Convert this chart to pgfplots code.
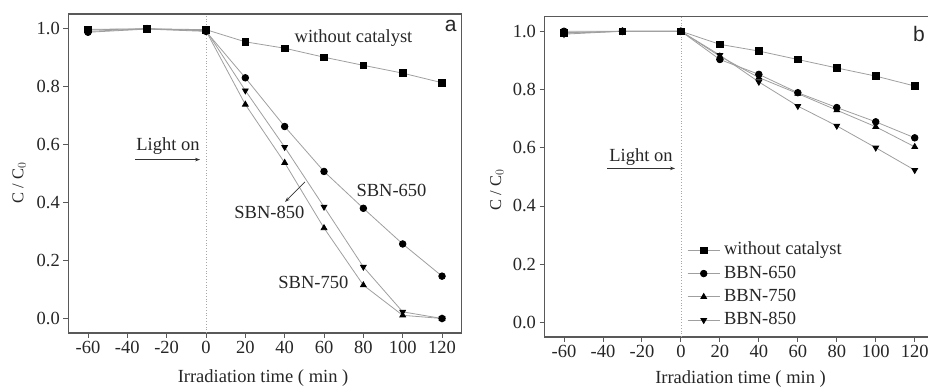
\documentclass[border=0pt]{standalone}
\usepackage{pgfplots}
\pgfplotsset{compat=1.18}
\usepackage{fontspec}
\setmainfont{Liberation Serif}
\newfontfamily\sansf{Liberation Sans}
\usetikzlibrary{arrows.meta}
\newcommand\fs{\fontsize{18.5}{21}\selectfont}
\tikzset{ann/.style={font=\fs, text=black!85}}

\pgfplotsset{
 myax/.style={
  scale only axis,
  xmin=-70,xmax=130,ymin=-0.05,ymax=1.05,
  xtick={-60,-40,...,120}, ytick={0,0.2,0.4,0.6,0.8,1.0},
  yticklabel style={/pgf/number format/.cd,fixed,fixed zerofill,precision=1},
  tick align=outside, tick pos=left,
  major tick length=5pt,
  axis line style={black!65, line width=1.1pt},
  every tick/.style={black!65, line width=0.9pt},
  tick label style={font=\fs, text=black!85},
  label style={font=\fs, text=black!85},
  /pgf/number format/assume math mode=true,
  clip=false,
 },
 ser/.style={gray!75, line width=0.8pt, mark size=3.3pt, mark options={draw=black,fill=black,solid}},
 serd/.style={gray!75, line width=0.8pt, mark size=3.3pt, mark=triangle*, mark options={draw=black,fill=black,solid,rotate=180}},
}

\begin{document}
\begin{tikzpicture}
\path[use as bounding box] (0pt,0pt) rectangle (928pt,390pt);
\begin{scope}
\clip (0pt,0pt) rectangle (928pt,390pt);
% ---------------- panel a
\begin{axis}[myax,
  at={(68.3pt,57pt)}, anchor=south west,
  width=393.4pt, height=319pt,
  xlabel={Irradiation time ( min )},
  ylabel={C / C$_0$},
  xlabel style={at={(axis description cs:0.495,-0.141)},anchor=center},
  ylabel style={at={(axis description cs:-0.125,0.47)},anchor=center,font=\fontsize{16.5}{19}\selectfont},
]
\draw[gray!70, dotted, line width=0.8pt] (axis cs:0,-0.05) -- (axis cs:0,1.05);
\addplot[ser, mark=square*] coordinates {(-60,0.997)(-30,0.999)(0,0.996)(20,0.954)(40,0.932)(60,0.901)(80,0.873)(100,0.846)(120,0.813)};
\addplot[ser, mark=*] coordinates {(-60,0.987)(-30,0.998)(0,0.990)(20,0.830)(40,0.662)(60,0.507)(80,0.380)(100,0.257)(120,0.146)};
\addplot[ser, mark=triangle*] coordinates {(-60,0.990)(-30,0.999)(0,0.992)(20,0.738)(40,0.537)(60,0.312)(80,0.115)(100,0.011)(120,0.0)};
\addplot[serd] coordinates {(-60,0.995)(-30,0.999)(0,0.994)(20,0.786)(40,0.591)(60,0.385)(80,0.178)(100,0.023)(120,0.0)};
\addplot[ser, mark=*] coordinates {(120,0.0)};
\node[ann] at (axis cs:75,0.968) {without catalyst};
\node[ann] at (axis cs:94.3,0.44) {SBN-650};
\node[ann] at (axis cs:32.2,0.365) {SBN-850};
\node[ann] at (axis cs:54.6,0.123) {SBN-750};
\draw[black!80, line width=0.7pt, -{Stealth[length=5pt,width=3.5pt]}] (axis cs:50.3,0.471) -- (axis cs:40.2,0.402);
\node[ann] at (axis cs:-19.3,0.594) {Light on};
\draw[black!80, line width=0.7pt, -{Stealth[length=5pt,width=3.5pt]}] (axis cs:-36,0.548) -- (axis cs:-3,0.548);
\node[font=\sansf\fontsize{21}{24}\selectfont, text=black!85] at (axis cs:124.4,1.01) {a};
\end{axis}
% ---------------- panel b
\begin{axis}[myax,
  at={(544.5pt,53pt)}, anchor=south west,
  width=389.7pt, height=320.3pt,
  xlabel={Irradiation time ( min )},
  ylabel={C / C$_0$},
  xlabel style={at={(axis description cs:0.503,-0.131)},anchor=center},
  ylabel style={at={(axis description cs:-0.122,0.459)},anchor=center,font=\fontsize{16.5}{19}\selectfont},
  legend style={draw=none, fill=none, at={(0.366,0.298)}, anchor=north west,
     font=\fs, text=black!85, row sep=6.3pt, column sep=4pt, inner sep=0pt,
     nodes={inner sep=0pt, text height=13pt, text depth=4pt}},
  legend cell align=left,
  legend image code/.code={\draw[mark repeat=2,mark phase=2,#1] plot coordinates {(0pt,0pt)(16pt,0pt)(32pt,0pt)};},
]
\draw[gray!70, dotted, line width=0.8pt] (axis cs:0,-0.05) -- (axis cs:0,1.05);
\addplot[ser, mark=square*] coordinates {(-60,0.995)(-30,1.0)(0,1.0)(20,0.955)(40,0.932)(60,0.903)(80,0.874)(100,0.846)(120,0.812)};
\addlegendentry{without catalyst}
\addplot[ser, mark=*] coordinates {(-60,1.0)(-30,1.0)(0,1.0)(20,0.903)(40,0.852)(60,0.789)(80,0.738)(100,0.689)(120,0.634)};
\addlegendentry{BBN-650}
\addplot[ser, mark=triangle*] coordinates {(-60,0.993)(-30,1.0)(0,1.0)(20,0.914)(40,0.841)(60,0.786)(80,0.729)(100,0.672)(120,0.603)};
\addlegendentry{BBN-750}
\addplot[serd] coordinates {(-60,0.99)(-30,1.0)(0,1.0)(20,0.918)(40,0.826)(60,0.743)(80,0.675)(100,0.600)(120,0.523)};
\addlegendentry{BBN-850}
\node[ann] at (axis cs:-20.5,0.569) {Light on};
\draw[black!80, line width=0.7pt, -{Stealth[length=5pt,width=3.5pt]}] (axis cs:-37.8,0.529) -- (axis cs:-3,0.529);
\node[font=\sansf\fontsize{21}{24}\selectfont, text=black!85] at (axis cs:122.2,0.992) {b};
\end{axis}
\end{scope}
\end{tikzpicture}
\end{document}
